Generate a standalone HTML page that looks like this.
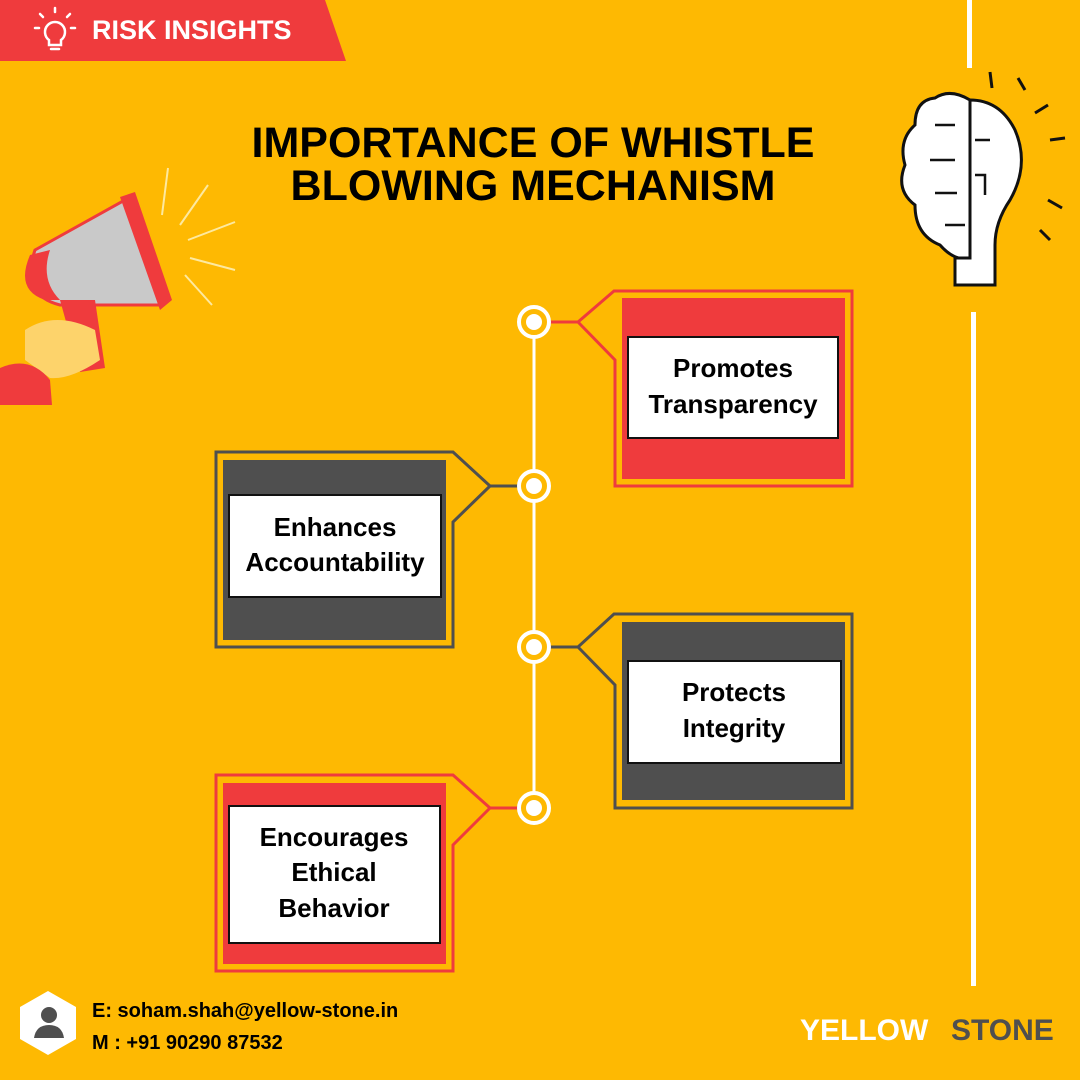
<!DOCTYPE html>
<html><head><meta charset="utf-8"><style>
html,body{margin:0;padding:0}
body{width:1080px;height:1080px;background:#FEB902;overflow:hidden}
svg{display:block}
text{font-family:"Liberation Sans",sans-serif;font-weight:bold}
</style></head><body>
<svg width="1080" height="1080" viewBox="0 0 1080 1080">
<rect width="1080" height="1080" fill="#FEB902"/>
<!-- banner -->
<polygon points="0,0 325,0 346,61 0,61" fill="#EF3B3D"/>
<g stroke="#fff" stroke-width="2.5" fill="none" stroke-linecap="round">
<path d="M49,40 a10,10 0 1 1 12,0 v5 h-12 z"/>
<line x1="51" y1="49" x2="59" y2="49"/>
<line x1="55" y1="8" x2="55" y2="12"/><line x1="40" y1="14" x2="43" y2="17"/><line x1="70" y1="14" x2="67" y2="17"/>
<line x1="35" y1="28" x2="39" y2="28"/><line x1="71" y1="28" x2="75" y2="28"/>
</g>
<text x="92" y="39" font-size="27" fill="#fff">RISK INSIGHTS</text>
<!-- right white line -->
<rect x="967" y="0" width="5" height="68" fill="#fff"/>
<rect x="971" y="312" width="5" height="674" fill="#fff"/>
<!-- title -->
<text x="533" y="157" font-size="43" text-anchor="middle" fill="#000">IMPORTANCE OF WHISTLE</text>
<text x="533" y="200" font-size="43" text-anchor="middle" fill="#000">BLOWING MECHANISM</text>
<!-- megaphone -->
<g>
<path d="M35,250 L125,200 L160,305 L60,305 Q20,295 35,250 Z" fill="#C9C9C9" stroke="#EF3B3D" stroke-width="3"/>
<polygon points="120,197 135,192 172,300 160,310" fill="#EF3B3D"/>
<path d="M30,255 Q15,290 45,300 L60,300 Q40,280 50,250 Z" fill="#EF3B3D"/>
<polygon points="60,300 95,300 105,368 80,372" fill="#EF3B3D"/>
<path d="M25,330 Q55,310 95,330 L100,360 Q70,380 50,378 L25,360 Z" fill="#FDD36B"/>
<path d="M0,368 Q30,355 50,380 L52,405 L0,405 Z" fill="#EF3B3D"/>
<g stroke="#FDE9A0" stroke-width="2">
<line x1="168" y1="168" x2="162" y2="215"/><line x1="208" y1="185" x2="180" y2="225"/>
<line x1="235" y1="222" x2="188" y2="240"/><line x1="235" y1="270" x2="190" y2="258"/>
<line x1="212" y1="305" x2="185" y2="275"/>
</g>
</g>
<!-- brain -->
<g stroke="#111" stroke-width="3" fill="#fff">
<path d="M970,100 Q950,88 935,98 Q915,100 915,125 Q898,140 905,165 Q895,190 915,205 Q915,235 940,245 Q955,262 970,258 Z"/>
<path d="M970,100 Q1000,100 1015,130 Q1030,165 1010,200 Q995,222 995,245 L995,285 L955,285 L955,258 L970,258 Z"/>
<line x1="970" y1="100" x2="970" y2="258"/>
<g fill="none" stroke-width="2.5">
<path d="M935,125 h20 M930,160 h25 M935,193 h22 M945,225 h20 M975,175 h10 v20 M975,140 h15"/>
</g>
<line x1="1018" y1="78" x2="1025" y2="90" fill="none"/><line x1="1048" y1="105" x2="1035" y2="113" fill="none"/>
<line x1="1050" y1="140" x2="1065" y2="138" fill="none"/><line x1="1048" y1="200" x2="1062" y2="208" fill="none"/>
<line x1="1040" y1="230" x2="1050" y2="240" fill="none"/><line x1="990" y1="72" x2="992" y2="88" fill="none"/>
</g>
<!-- timeline -->
<line x1="534" y1="322" x2="534" y2="808" stroke="#fff" stroke-width="3"/>
<!-- card1 -->
<rect x="622" y="298" width="223" height="181" fill="#EF3B3D"/>
<polyline points="550,322 578,322 614,291 852,291 852,486 615,486 615,360 578,322" fill="none" stroke="#EF3B3D" stroke-width="3"/>
<rect x="628" y="337" width="210" height="101" fill="#fff" stroke="#111" stroke-width="2"/>
<text x="733" y="377" font-size="26" text-anchor="middle">Promotes</text>
<text x="733" y="413" font-size="26" text-anchor="middle">Transparency</text>
<!-- card2 -->
<rect x="223" y="460" width="223" height="180" fill="#4F4F4F"/>
<polyline points="518,486 490,486 453,452 216,452 216,647 453,647 453,522 490,486" fill="none" stroke="#4F4F4F" stroke-width="3"/>
<rect x="229" y="495" width="212" height="102" fill="#fff" stroke="#111" stroke-width="2"/>
<text x="335" y="536" font-size="26" text-anchor="middle">Enhances</text>
<text x="335" y="571" font-size="26" text-anchor="middle">Accountability</text>
<!-- card3 -->
<rect x="622" y="622" width="223" height="178" fill="#4F4F4F"/>
<polyline points="550,647 578,647 614,614 852,614 852,808 615,808 615,685 578,647" fill="none" stroke="#4F4F4F" stroke-width="3"/>
<rect x="628" y="661" width="213" height="102" fill="#fff" stroke="#111" stroke-width="2"/>
<text x="734" y="701" font-size="26" text-anchor="middle">Protects</text>
<text x="734" y="737" font-size="26" text-anchor="middle">Integrity</text>
<!-- card4 -->
<rect x="223" y="783" width="223" height="181" fill="#EF3B3D"/>
<polyline points="518,808 490,808 453,775 216,775 216,971 453,971 453,845 490,808" fill="none" stroke="#EF3B3D" stroke-width="3"/>
<rect x="229" y="806" width="211" height="137" fill="#fff" stroke="#111" stroke-width="2"/>
<text x="334" y="846" font-size="26" text-anchor="middle">Encourages</text>
<text x="334" y="881" font-size="26" text-anchor="middle">Ethical</text>
<text x="334" y="917" font-size="26" text-anchor="middle">Behavior</text>
<!-- circles -->
<g fill="#fff" stroke="#fff" stroke-width="4">
<circle cx="534" cy="322" r="15" fill="#FEB902"/><circle cx="534" cy="322" r="8" stroke="none"/>
<circle cx="534" cy="486" r="15" fill="#FEB902"/><circle cx="534" cy="486" r="8" stroke="none"/>
<circle cx="534" cy="647" r="15" fill="#FEB902"/><circle cx="534" cy="647" r="8" stroke="none"/>
<circle cx="534" cy="808" r="15" fill="#FEB902"/><circle cx="534" cy="808" r="8" stroke="none"/>
</g>
<!-- footer -->
<polygon points="48,991 76,1007 76,1039 48,1055 20,1039 20,1007" fill="#fff"/>
<circle cx="49" cy="1015" r="8" fill="#4F4F4F"/>
<path d="M34,1038 Q36,1025 49,1025 Q62,1025 64,1038 Z" fill="#4F4F4F"/>
<text x="92" y="1017" font-size="20" fill="#000">E: soham.shah@yellow-stone.in</text>
<text x="92" y="1049" font-size="20" fill="#000">M : +91 90290 87532</text>
<text x="800" y="1040" font-size="30" fill="#fff">YELLOW</text>
<text x="951" y="1040" font-size="30" fill="#4F4F4F">STONE</text>
</svg>
</body></html>
